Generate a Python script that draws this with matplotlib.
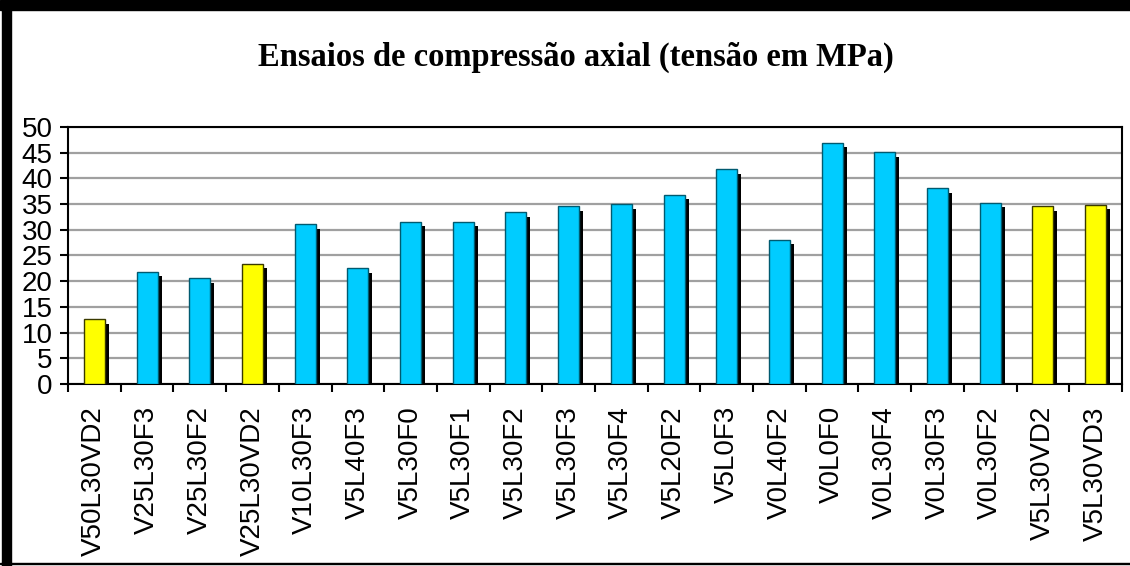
import matplotlib
matplotlib.use('Agg')
import matplotlib.pyplot as plt
import matplotlib.transforms as mtransforms
from matplotlib.patches import Rectangle

# data
samples = ['V50L30VD2', 'V25L30F3', 'V25L30F2', 'V25L30VD2', 'V10L30F3',
           'V5L40F3', 'V5L30F0', 'V5L30F1', 'V5L30F2', 'V5L30F3',
           'V5L30F4', 'V5L20F2', 'V5L0F3', 'V0L40F2', 'V0L0F0',
           'V0L30F4', 'V0L30F3', 'V0L30F2', 'V5L30VD2', 'V5L30VD3']
stress = [12.6, 21.8, 20.6, 23.4, 31.1,
          22.5, 31.6, 31.6, 33.4, 34.6,
          35.0, 36.8, 41.8, 28.1, 46.9,
          45.1, 38.1, 35.3, 34.6, 34.9]
highlight = ['V50L30VD2', 'V25L30VD2', 'V5L30VD2', 'V5L30VD3']
y_ticks = list(range(0, 55, 5))

BLUE = '#00ccff'
YELLOW = '#ffff00'


def plot_bars(names, values, plot_name):
    fig = plt.figure(figsize=(11.3, 5.66), dpi=100)
    ax = fig.add_axes([0.0602, 0.3216, 0.9327, 0.4540])

    x = list(range(len(names)))
    colors = [YELLOW if n in highlight else BLUE for n in names]
    edges = ['#3a3a00' if n in highlight else '#005a70' for n in names]

    # black drop shadow, shifted right and down
    shadow = mtransforms.offset_copy(ax.transData, fig=fig, x=4, y=-4.5, units='dots')
    ax.bar(x, values, width=0.4, color='black', transform=shadow, zorder=2)
    ax.bar(x, values, width=0.4, color=colors, edgecolor=edges, linewidth=1.0, zorder=3)

    ax.set_xlim(-0.5, len(names) - 0.5)
    ax.set_ylim(0, 50)
    ax.set_yticks(y_ticks)
    ax.set_xticks(x)
    ax.set_xticklabels(names, rotation=90, fontsize=20, family='Liberation Sans')
    ax.set_xticks([i - 0.5 for i in range(len(names) + 1)], minor=True)
    ax.tick_params(axis='x', which='major', length=0, pad=16)
    ax.tick_params(axis='x', which='minor', length=6, width=1.5, direction='out')
    ax.tick_params(axis='y', length=6, width=1.5, pad=5, labelsize=20)
    for lab in ax.get_yticklabels():
        lab.set_family('Liberation Sans')

    ax.grid(axis='y', color='#a0a0a0', linewidth=1.6, zorder=0)
    ax.set_axisbelow(True)
    for s in ax.spines.values():
        s.set_linewidth(1.5)
        s.set_color('black')

    fig.text(0.51, 0.898, 'Ensaios de compressão axial (tensão em MPa)',
             ha='center', va='center', fontsize=23.5, fontweight='bold',
             family='Liberation Serif')

    # page frame around the chart
    fig.patches.append(Rectangle((0.002, 0.0), 0.008, 1.0, transform=fig.transFigure,
                                 color='black', zorder=10))
    fig.patches.append(Rectangle((0.0, 0.983), 1.0, 0.017, transform=fig.transFigure,
                                 color='black', zorder=10))
    fig.patches.append(Rectangle((0.0, 0.003), 1.0, 0.003, transform=fig.transFigure,
                                 color='black', zorder=10))

    fig.savefig(plot_name, dpi=100)


if __name__ == "__main__":
    plot_bars(samples, stress, 'out.png')
